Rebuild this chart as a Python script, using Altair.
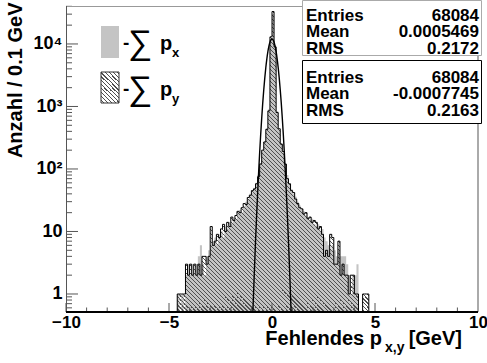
import altair as alt
import numpy as np
import pandas as pd

# ---------------- data ----------------
bin_lo = [round(-4.7 + 0.1 * i, 1) for i in range(95)]
px_counts = [0, 1, 0, 1, 0, 2, 3, 2, 3, 2, 3, 4, 6, 3, 2, 4, 5, 6, 7, 8,
             6, 9, 10, 8, 12, 11, 14, 13, 16, 15, 19, 22, 20, 25, 30, 32, 40, 42, 50, 60,
             80, 125, 190, 280, 450, 900, 12000, 30000, 9500, 850, 420, 260, 180, 115, 80, 55, 48, 40, 36, 30,
             26, 22, 21, 18, 17, 15, 16, 13, 12, 13, 10, 11, 8, 7, 6, 5, 6, 5, 4, 5,
             4, 4, 4, 3, 2, 1, 2, 2, 3, 0, 0, 0, 0, 0, 0]
py_counts = [0, 1, 1, 1, 1, 3, 2, 3, 2, 3, 2, 3, 2, 4, 4, 3, 4, 12, 6, 7,
             9, 8, 11, 13, 10, 14, 12, 17, 15, 18, 21, 20, 24, 28, 27, 35, 38, 45, 48, 58,
             75, 120, 200, 270, 430, 850, 13000, 33000, 9000, 800, 440, 250, 190, 120, 70, 58, 45, 42, 33, 28,
             24, 23, 19, 20, 16, 17, 14, 15, 14, 11, 12, 9, 4, 5, 4, 9, 8, 3, 3, 7,
             2, 3, 2, 2, 1, 2, 2, 1, 1, 0, 0, 1, 1, 1, 0]
gauss_x = [-1.0, -0.95, -0.9, -0.85, -0.8, -0.75, -0.7, -0.65, -0.6, -0.55, -0.5,
           -0.45, -0.4, -0.35, -0.3, -0.25, -0.2, -0.15, -0.1, -0.05, 0.0,
           0.05, 0.1, 0.15, 0.2, 0.25, 0.3, 0.35, 0.4, 0.45, 0.5,
           0.55, 0.6, 0.65, 0.7, 0.75, 0.8, 0.85, 0.9, 0.95, 1.0]
gauss_y = [0.10, 0.32, 0.94, 2.6, 6.9, 16.9, 39.4, 86.7, 180, 352, 649,
           1130, 1855, 2873, 4199, 5788, 7524, 9229, 10679, 11654, 12000,
           11654, 10679, 9229, 7524, 5788, 4199, 2873, 1855, 1130, 649,
           352, 180, 86.7, 39.4, 16.9, 6.9, 2.6, 0.94, 0.32, 0.10]
stat_labels = ["Entries", "Mean", "RMS"]
stats_px = ["68084", "0.0005469", "0.2172"]
stats_py = ["68084", "-0.0007745", "0.2163"]
y_major = [1, 10, 100, 1000, 10000]
x_major = [-10, -5, 0, 5, 10]

# ---------------- layout / style ----------------
W, H = 412, 306
YMIN, YMAX = 0.515, 40500.0
FONT = "Liberation Sans"
GREY = "#c4c4c4"
DARK = "#505050"

xs = alt.Scale(domain=[-10, 10], nice=False, zero=False)
ys = alt.Scale(type="log", domain=[YMIN, YMAX], nice=False)

ylab_expr = ("datum.value == 1 ? '1' : datum.value == 10 ? '10' : datum.value == 100 ? '10\u00b2' : "
             "datum.value == 1000 ? '10\u00b3' : '10\u2074'")
AX = alt.Axis(values=x_major, ticks=False, tickSize=0, domain=False, grid=False,
              labelFont=FONT, labelFontSize=17, labelFontWeight="bold", labelColor="black",
              labelPadding=2, labelFlush=False, title=None)
AY = alt.Axis(values=y_major, labelExpr=ylab_expr, ticks=False, tickSize=0, domain=False, grid=False,
              labelFont=FONT, labelFontSize=18, labelFontWeight="bold", labelColor="black", labelPadding=4,
              title="Anzahl / 0.1 GeV", titleFont=FONT, titleFontSize=20, titleFontWeight="bold",
              titleColor="black", titleAngle=-90, titleAlign="right", titleBaseline="alphabetic",
              titleX=-45, titleY=-4)


def X(f):
    return alt.X(f, scale=xs, axis=AX)


def Y(f):
    return alt.Y(f, scale=ys, axis=AY, stack=None)


def xpix(v):
    return (v + 10) / 20 * W


def ypix(c):
    return H * (1 - (np.log10(c) - np.log10(YMIN)) / (np.log10(YMAX) - np.log10(YMIN)))


def hatch(X0, Y0, Wb, Hb, bg, P=4.0, LW=1.5):
    """Opaque diagonal hatch as a linear gradient over a bbox, stripes aligned on X - Y = k*P."""
    S = Wb + Hb
    s = S / (Wb ** 2 + Hb ** 2)
    g0 = X0 - Y0 - Hb
    stops = []
    k = int(np.floor(g0 / P))
    while k * P < g0 + S:
        ts = min(max((k * P - g0) / S, 0.0), 1.0)
        te = min(max((k * P + LW - g0) / S, 0.0), 1.0)
        tn = min(max(((k + 1) * P - g0) / S, 0.0), 1.0)
        stops += [{"offset": ts, "color": DARK}, {"offset": te, "color": DARK},
                  {"offset": te, "color": bg}, {"offset": tn, "color": bg}]
        k += 1
    return {"gradient": "linear", "x1": 0, "y1": 1, "x2": float(s * Wb),
            "y2": float(1 - s * Hb), "stops": stops}


edges = bin_lo + [round(bin_lo[-1] + 0.1, 1)]
px_f = [max(c, YMIN) for c in px_counts]
py_f = [max(c, YMIN) for c in py_counts]
mn_f = [min(a, b) for a, b in zip(px_f, py_f)]
df_px = pd.DataFrame({"x": edges, "y": px_f + [px_f[-1]]})
df_py = pd.DataFrame({"x": edges, "y": py_f + [py_f[-1]]})
df_mn = pd.DataFrame({"x": edges, "y": mn_f + [mn_f[-1]]})
df_out = pd.DataFrame({"x": [edges[0]] + bin_lo + [edges[-1]],
                       "y": [YMIN] + py_f + [YMIN]})
df_out["i"] = range(len(df_out))
df_g = pd.DataFrame({"x": gauss_x, "y": gauss_y})

X0 = xpix(edges[0])
Wb = xpix(edges[-1]) - X0


def hatched_area(df, vals, bg):
    top = ypix(max(vals))
    return alt.Chart(df).mark_area(interpolate="step-after", fill=hatch(X0, top, Wb, H - top, bg),
                                   opacity=1, clip=True).encode(x=X("x:Q"), y=Y("y:Q"), y2=alt.value(H))


area_py = hatched_area(df_py, py_f, "white")
area_px = alt.Chart(df_px).mark_area(interpolate="step-after", color=GREY, opacity=1, clip=True).encode(
    x=X("x:Q"), y=Y("y:Q"), y2=alt.value(H))
area_mn = hatched_area(df_mn, mn_f, GREY)

outline = alt.Chart(df_out).mark_line(interpolate="step-after", color="black", strokeWidth=1, clip=True).encode(
    x=X("x:Q"), y=Y("y:Q"), order="i:Q")

gauss = alt.Chart(df_g).mark_line(interpolate="monotone", color="black", strokeWidth=1.4, clip=True).encode(
    x=X("x:Q"), y=Y("y:Q"))

# ticks (inward)
y_minor = [k * 10.0 ** d for d in range(-1, 5) for k in range(2, 10) if YMIN < k * 10.0 ** d < YMAX]
x_minor = [v for v in range(-9, 10) if v % 5 != 0]
tick_col = "#555555"
ytm = alt.Chart(pd.DataFrame({"y": y_major})).mark_rule(color=tick_col, strokeWidth=1).encode(
    y=Y("y:Q"), x=alt.value(0), x2=alt.value(12))
ytn = alt.Chart(pd.DataFrame({"y": y_minor})).mark_rule(color=tick_col, strokeWidth=1).encode(
    y=Y("y:Q"), x=alt.value(0), x2=alt.value(6))
xtm = alt.Chart(pd.DataFrame({"x": x_major})).mark_rule(color=tick_col, strokeWidth=1).encode(
    x=X("x:Q"), y=alt.value(H), y2=alt.value(H - 9))
xtn = alt.Chart(pd.DataFrame({"x": x_minor})).mark_rule(color=tick_col, strokeWidth=1).encode(
    x=X("x:Q"), y=alt.value(H), y2=alt.value(H - 4.5))

one = pd.DataFrame({"a": [0]})
frame = [
    alt.Chart(one).mark_rule(color="#999999", strokeWidth=1).encode(x=alt.value(0), x2=alt.value(W), y=alt.value(0.5)),
    alt.Chart(one).mark_rule(color="#aaaaaa", strokeWidth=2).encode(x=alt.value(W), y=alt.value(0), y2=alt.value(H)),
    alt.Chart(one).mark_rule(color="#555555", strokeWidth=1).encode(x=alt.value(0.5), y=alt.value(0), y2=alt.value(H)),
    alt.Chart(one).mark_rule(color="black", strokeWidth=2).encode(x=alt.value(0), x2=alt.value(W), y=alt.value(H)),
]

# legend
leg = [
    alt.Chart(one).mark_rect(fill=GREY).encode(x=alt.value(35), x2=alt.value(53), y=alt.value(20), y2=alt.value(52)),
    alt.Chart(one).mark_rect(fill=hatch(35, 66, 18, 31, "white"), stroke="#333333", strokeWidth=1).encode(
        x=alt.value(35), x2=alt.value(53), y=alt.value(66), y2=alt.value(97)),
]
for dy, sub in [(0, "x"), (46, "y")]:
    leg += [
        alt.Chart(one).mark_text(text="-", font=FONT, fontSize=19, fontWeight="bold", align="left",
                                 baseline="alphabetic").encode(x=alt.value(57), y=alt.value(43 + dy)),
        alt.Chart(one).mark_text(text="\u2211", font=FONT, fontSize=34, align="left",
                                 baseline="alphabetic").encode(x=alt.value(62), y=alt.value(48 + dy)),
        alt.Chart(one).mark_text(text="p", font=FONT, fontSize=20, fontWeight="bold", align="left",
                                 baseline="alphabetic").encode(x=alt.value(94), y=alt.value(44 + dy)),
        alt.Chart(one).mark_text(text=sub, font=FONT, fontSize=13, fontWeight="bold", align="left",
                                 baseline="alphabetic").encode(x=alt.value(106), y=alt.value(51 + dy)),
    ]

# stat boxes (multi-line text blocks)
boxes = [
    alt.Chart(one).mark_rect(fill="white", stroke="#aaaaaa", strokeWidth=1).encode(
        x=alt.value(236.5), x2=alt.value(415.5), y=alt.value(-5.5), y2=alt.value(49.5)),
    alt.Chart(one).mark_rect(fill="white", stroke="black", strokeWidth=1).encode(
        x=alt.value(236.5), x2=alt.value(415.5), y=alt.value(54.5), y2=alt.value(117.5)),
]
for top, vals in [(14.5, stats_px), (76.5, stats_py)]:
    boxes += [
        alt.Chart(one).mark_text(text=list(stat_labels), font=FONT, fontSize=17, fontWeight="bold",
                                 align="left", baseline="alphabetic", lineHeight=16.8).encode(
            x=alt.value(240), y=alt.value(top)),
        alt.Chart(one).mark_text(text=list(vals), font=FONT, fontSize=17, fontWeight="bold",
                                 align="right", baseline="alphabetic", lineHeight=16.8).encode(
            x=alt.value(413), y=alt.value(top)),
    ]

# x title
xt = [
    alt.Chart(one).mark_text(text="Fehlendes p", font=FONT, fontSize=20, fontWeight="bold", align="right",
                             baseline="alphabetic").encode(x=alt.value(316), y=alt.value(339)),
    alt.Chart(one).mark_text(text="x,y", font=FONT, fontSize=14, fontWeight="bold", align="left",
                             baseline="alphabetic").encode(x=alt.value(319), y=alt.value(346)),
    alt.Chart(one).mark_text(text="[GeV]", font=FONT, fontSize=20, fontWeight="bold", align="right",
                             baseline="alphabetic").encode(x=alt.value(396), y=alt.value(339)),
]

chart = alt.layer(area_py, area_px, area_mn, outline, gauss, ytm, ytn, xtm, xtn, *frame, *leg, *boxes,
                  *xt).properties(
    width=W, height=H,
    autosize=alt.AutoSizeParams(type="none"),
    padding={"left": 66, "top": 6, "right": 9, "bottom": 51},
    background="white",
).configure_view(stroke=None)

chart.save("out.html", embed_options={"renderer": "svg", "actions": False})
